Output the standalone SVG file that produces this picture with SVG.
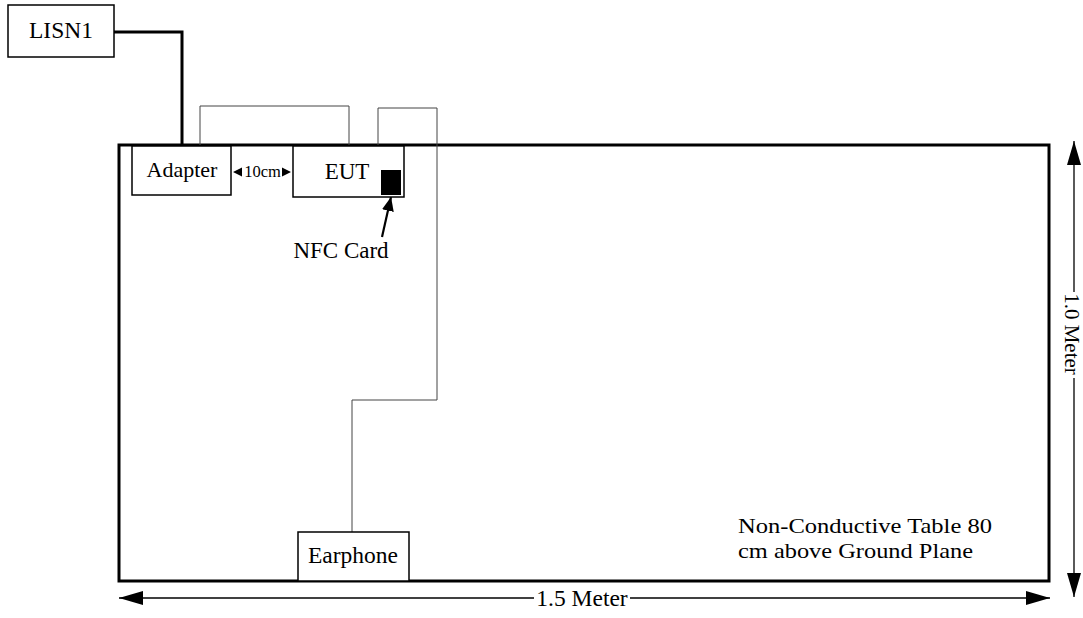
<svg xmlns="http://www.w3.org/2000/svg" width="1083" height="618" viewBox="0 0 1083 618">
<defs>
<style>
text{font-family:"Liberation Serif","Times New Roman",serif;fill:#000}
.box{fill:#fff;stroke:#000;stroke-width:1.5}
.thin{fill:none;stroke:#444;stroke-width:1}
.thick{fill:none;stroke:#000;stroke-width:3}
.dim{fill:none;stroke:#000;stroke-width:1.3}
</style>
<marker id="big" viewBox="0 0 24 14" refX="24" refY="7" markerWidth="24" markerHeight="14" markerUnits="userSpaceOnUse" orient="auto-start-reverse"><path d="M0,0 L24,7 L0,14 z" fill="#000"/></marker>
<marker id="med" viewBox="0 0 14 12" refX="14" refY="6" markerWidth="14" markerHeight="12" markerUnits="userSpaceOnUse" orient="auto"><path d="M0,0 L14,6 L0,12 z" fill="#000"/></marker>
</defs>
<rect width="1083" height="618" fill="#fff"/>
<g id="table">
<rect x="119" y="145" width="930" height="436" fill="none" stroke="#000" stroke-width="3"/>
</g>
<g id="connectors">
<path class="thick" d="M114,32 H182 V145"/>
<path class="thin" d="M200,145 V106 H349 V145"/>
<path class="thin" d="M378,145 V108 H437 V400 H352 V532"/>
<line x1="382" y1="237" x2="391" y2="197" stroke="#000" stroke-width="2.2" marker-end="url(#med)"/>
<line class="dim" x1="1074" y1="141" x2="1074" y2="292" marker-start="url(#big)"/>
<line class="dim" x1="1074" y1="378" x2="1074" y2="597" marker-end="url(#big)"/>
<line class="dim" x1="119" y1="598" x2="534" y2="598" marker-start="url(#big)"/>
<line class="dim" x1="630" y1="598" x2="1050" y2="598" marker-end="url(#big)"/>
</g>
<g id="lisn1">
<rect class="box" x="8" y="5" width="106" height="52"/>
<text x="61" y="38" font-size="23.5" text-anchor="middle">LISN1</text>
</g>
<g id="adapter">
<rect class="box" x="132" y="146" width="99" height="49"/>
<text x="182" y="177" font-size="22" text-anchor="middle">Adapter</text>
</g>
<g id="dist">
<path d="M233,172 L242,167.5 L242,176.5 z M291,172 L282,167.5 L282,176.5 z" fill="#000"/>
<text x="262.5" y="177" font-size="16.5" text-anchor="middle">10cm</text>
</g>
<g id="eut">
<rect class="box" x="293" y="146" width="111" height="51"/>
<text x="347" y="179" font-size="23" text-anchor="middle">EUT</text>
<rect x="381" y="170" width="20" height="25" fill="#000"/>
</g>
<g id="nfc">
<text x="341" y="258" font-size="23" text-anchor="middle">NFC Card</text>
</g>
<g id="earphone">
<rect class="box" x="298" y="532" width="111" height="49"/>
<text x="353" y="563" font-size="23.5" text-anchor="middle">Earphone</text>
</g>
<g id="note">
<text x="738" y="533" font-size="22" textLength="254" lengthAdjust="spacingAndGlyphs">Non-Conductive Table 80</text>
<text x="738" y="558" font-size="22" textLength="235" lengthAdjust="spacingAndGlyphs">cm above Ground Plane</text>
</g>
<g id="dims">
<text x="582" y="606" font-size="23.5" text-anchor="middle">1.5 Meter</text>
<text transform="translate(1065,334) rotate(90)" font-size="21" text-anchor="middle">1.0 Meter</text>
</g>
</svg>
